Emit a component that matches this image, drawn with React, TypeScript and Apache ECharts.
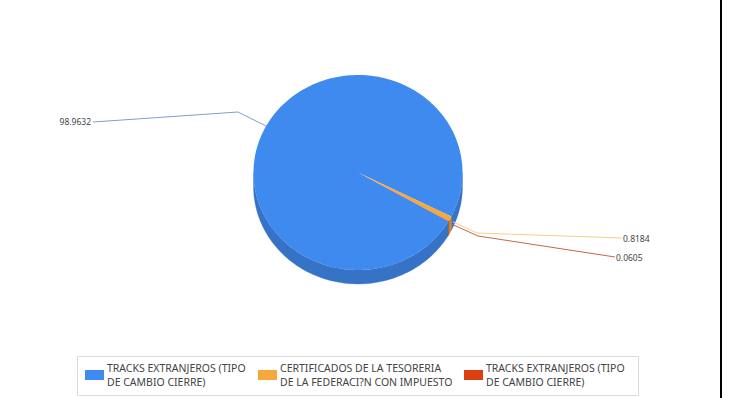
import React, { useEffect, useRef } from "react";
import * as echarts from "echarts";

const sliceNames = [
  "TRACKS EXTRANJEROS (TIPO\nDE CAMBIO CIERRE)",
  "CERTIFICADOS DE LA TESORERIA\nDE LA FEDERACI?N CON IMPUESTO",
  "TRACKS EXTRANJEROS (TIPO\nDE CAMBIO CIERRE)",
];
const sliceValues = [98.9632, 0.8184, 0.0605];
const sliceColors = ["#3f8aee", "#f6a93a", "#dc3f10"];
const wallColors = ["#3672c6", "#c58a32", "#a8360f"];
const lineColors = ["#7f9fc4", "#f3cf8a", "#c8654a"];
const valueLabels = ["98.9632", "0.8184", "0.0605"];

const CX = 358, CY = 172.5, RX = 104.5, RY = 97.5, DEPTH = 14, START = 30;
const FONT = "Noto Sans";
// elbow and label anchor of each leader line
const leaders = [
  { elbow: [238, 112], end: [93, 122], text: [91, 121], align: "right" },
  { elbow: [477, 233], end: [622, 238], text: [623, 238], align: "left" },
  { elbow: [478, 236], end: [615, 257], text: [616, 257], align: "left" },
];
const legendSlots = [{ left: 85 }, { left: 258 }, { left: 464 }];

const total = sliceValues.reduce((a, b) => a + b, 0);
const rad = (d: number) => (d * Math.PI) / 180;
const ell = (d: number, dy = 0) => [CX + RX * Math.cos(rad(d)), CY + RY * Math.sin(rad(d)) + dy];
const arc = (a: number, b: number, dy = 0) => {
  const pts: number[][] = [];
  const n = Math.max(2, Math.ceil((b - a) / 1.5));
  for (let i = 0; i <= n; i++) pts.push(ell(a + ((b - a) * i) / n, dy));
  return pts;
};

function sliceRange(i: number) {
  let a = START;
  for (let k = 0; k < i; k++) a += (sliceValues[k] / total) * 360;
  return [a, a + (sliceValues[i] / total) * 360];
}

function renderSlice(i: number) {
  return (_params: any, api: any) => {
    const value = api.value(0);
    const [t0] = sliceRange(i);
    const t1 = t0 + (value / total) * 360;
    const mid = (t0 + t1) / 2;
    const children: any[] = [];
    for (const k of [0, 360]) {
      const a = Math.max(t0, k), b = Math.min(t1, k + 180);
      if (b > a) {
        children.push({
          type: "polygon",
          shape: { points: [...arc(a, b), ...arc(a, b, DEPTH).reverse()] },
          style: { fill: wallColors[i], stroke: wallColors[i], lineWidth: 0.3 },
        });
      }
    }
    children.push({
      type: "polygon",
      shape: { points: [[CX, CY], ...arc(t0, t1)] },
      style: { fill: sliceColors[i] },
    });
    const L = leaders[i];
    const from = ell(mid);
    const outward = i === 0 ? from : [from[0] + 3, from[1] + 3];
    children.push({
      type: "polyline",
      shape: { points: [outward, L.elbow, L.end] },
      style: { stroke: lineColors[i], lineWidth: 1, fill: "none" },
    });
    children.push({
      type: "text",
      style: {
        x: L.text[0], y: L.text[1], text: valueLabels[i],
        fill: "#444", font: `8.5px "${FONT}"`,
        align: L.align, verticalAlign: "middle",
      },
    });
    return { type: "group", children };
  };
}

export default function App() {
  const ref = useRef<HTMLDivElement>(null);
  useEffect(() => {
    document.body.style.margin = "0";
    document.body.style.background = "#fff";
    const chart = echarts.init(ref.current!, undefined, { renderer: "svg" });
    chart.setOption({
      animation: false,
      backgroundColor: "#fff",
      legend: legendSlots.map((slot, i) => ({
        left: slot.left, top: 361, padding: 0,
        selectedMode: false, icon: "rect",
        itemWidth: 19, itemHeight: 10, itemGap: 0,
        textStyle: { fontFamily: FONT, fontSize: 10.5, color: "#444", lineHeight: 14, padding: [0, 0, 0, -2] },
        data: [{ name: sliceNames[i], itemStyle: { color: sliceColors[i] } }],
      })),
      graphic: [
        { type: "rect", z: -1, shape: { x: 77.5, y: 356.5, width: 561, height: 39 }, style: { fill: "#fff", stroke: "#dcdcdc", lineWidth: 1 } },
        { type: "rect", shape: { x: 720, y: 0, width: 2, height: 398 }, style: { fill: "#000" } },
      ],
      series: sliceValues.map((v, i) => ({
        type: "custom",
        name: sliceNames[i],
        coordinateSystem: "none",
        itemStyle: { color: sliceColors[i] },
        z: i === 0 ? 2 : 3,
        silent: true,
        data: [[v]],
        renderItem: renderSlice(i),
      })),
    });
    return () => chart.dispose();
  }, []);
  return <div ref={ref} style={{ width: 733, height: 398 }} />;
}
